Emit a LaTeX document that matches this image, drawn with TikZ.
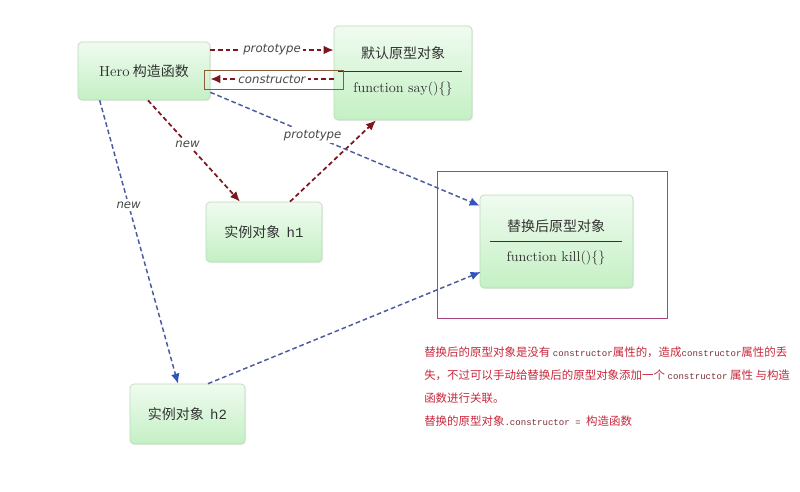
\documentclass[tikz,border=0pt]{standalone}
\usepackage{fontspec}
\setmainfont{Latin Modern Roman}
\newfontfamily\cjk{Noto Sans CJK SC}
\newfontfamily\lblfont{DejaVu Sans}
\newfontfamily\monofont{Liberation Mono}
\usetikzlibrary{arrows.meta,calc,shadows}
\definecolor{boxtop}{HTML}{F0FBF0}
\definecolor{boxbot}{HTML}{C4F0C4}
\definecolor{boxline}{HTML}{B8DCB8}
\definecolor{txt}{HTML}{333333}
\definecolor{dred}{HTML}{7E1620}
\definecolor{dblue}{HTML}{4A5C9C}
\definecolor{tipblue}{HTML}{2F55C0}
\definecolor{purp}{HTML}{A8457F}
\definecolor{cboxc}{HTML}{8A5A3A}
\definecolor{notered}{HTML}{C8283C}
\definecolor{notemono}{HTML}{7A2E3A}
\tikzset{
  greenbox/.style={draw=boxline, line width=0.5pt, rounded corners=3pt,
    top color=boxtop, bottom color=boxbot, text=txt,
    drop shadow={shadow xshift=0.8pt, shadow yshift=-0.8pt, opacity=0.12, fill=gray},
    font=\cjk\fontsize{10.5}{12}\selectfont, inner sep=0pt},
  redarrow/.style={draw=dred, line width=1.3pt, dash pattern=on 3.5pt off 2.2pt,
    -{Latex[length=7.5pt,width=6.5pt]}},
  bluearrow/.style={draw=dblue, line width=1.1pt, dash pattern=on 3.5pt off 2.2pt,
    -{Latex[length=7.5pt,width=6.5pt,color=tipblue]}},
  arrlabel/.style={fill=white, inner sep=2pt, text=black!72,
    font=\lblfont\itshape\fontsize{8.8}{10}\selectfont},
  notetext/.style={anchor=west, inner sep=0pt, text=notered,
    font=\cjk\fontsize{8.6}{10}\selectfont},
  divider/.style={draw=txt, line width=0.5pt},
}
\newcommand{\mcode}[1]{{\monofont\fontsize{6.8}{8}\selectfont\color{notemono}#1}}
\begin{document}
\begin{tikzpicture}[x=0.75pt,y=-0.75pt]
\useasboundingbox[fill=white] (0,0) rectangle (800,492);

% purple frame
\draw[purp, line width=0.6pt] (437,171) rectangle (667,318);

% boxes
\node[greenbox, minimum width={132*0.75pt}, minimum height={58*0.75pt}] (hero) at (144,71)
  {{\rmfamily\fontsize{11}{12}\selectfont Hero} 构造函数};
\node[greenbox, minimum width={138*0.75pt}, minimum height={94*0.75pt}] (def) at (403,73) {};
\node[text=txt, font=\cjk\fontsize{10.5}{12}\selectfont] (deft) at (403,53) {默认原型对象};
\draw[divider] (338,71) -- (462,71);
\node[text=txt, font=\rmfamily\fontsize{10.5}{12}\selectfont] (deff) at (403,89) {function say()\{\}};

\node[greenbox, minimum width={116*0.75pt}, minimum height={60*0.75pt}] (h1) at (264,232)
  {实例对象\ \ {\monofont h1}};

\node[greenbox, minimum width={153*0.75pt}, minimum height={93*0.75pt}] (rep) at (556.5,241.5) {};
\node[text=txt, font=\cjk\fontsize{10.5}{12}\selectfont] (rept) at (556,226) {替换后原型对象};
\draw[divider] (490,241) -- (622,241);
\node[text=txt, font=\rmfamily\fontsize{10.5}{12}\selectfont] (repf) at (556,258) {function kill()\{\}};

\node[greenbox, minimum width={115*0.75pt}, minimum height={60*0.75pt}] (h2) at (187.5,414)
  {实例对象\ \ {\monofont h2}};

% connectors
\draw[redarrow] ($(hero.east)+(0,-21)$) -- node[arrlabel] {prototype} ($(def.west)+(0,-23)$);
\draw[redarrow] ($(def.west)+(0,6)$) -- node[arrlabel] {constructor} ($(hero.east)+(0,8)$);
\draw[cboxc, line width=0.6pt] (204,70) rectangle (343,89);

\draw[redarrow] ($(hero.south)+(4,0)$) -- node[arrlabel, pos=0.43] {new} ($(h1.north)+(-24,0)$);
\draw[redarrow] ($(h1.north)+(26,0)$) -- ($(def.south)+(-27,0)$);

\draw[bluearrow] ($(hero.south east)+(0,-8)$) -- node[arrlabel, pos=0.38] {prototype} ($(rep.north west)+(0,11)$);
\draw[bluearrow] ($(hero.south west)+(22,0)$) -- node[arrlabel, pos=0.37] {new} ($(h2.north)+(-9.5,0)$);
\draw[bluearrow] ($(h2.north)+(20.5,0)$) -- ($(rep.west)+(1,30.5)$);

% note
\node[notetext] (n1) at (424,352) {替换后的原型对象是没有 \mcode{constructor}属性的，造成\mcode{constructor}属性的丢};
\node[notetext] (n2) at (424,375) {失，不过可以手动给替换后的原型对象添加一个 \mcode{constructor} 属性 与构造};
\node[notetext] (n3) at (424,398) {函数进行关联。};
\node[notetext] (n4) at (424,421) {替换的原型对象\mcode{.constructor = }构造函数};
\end{tikzpicture}
\end{document}
